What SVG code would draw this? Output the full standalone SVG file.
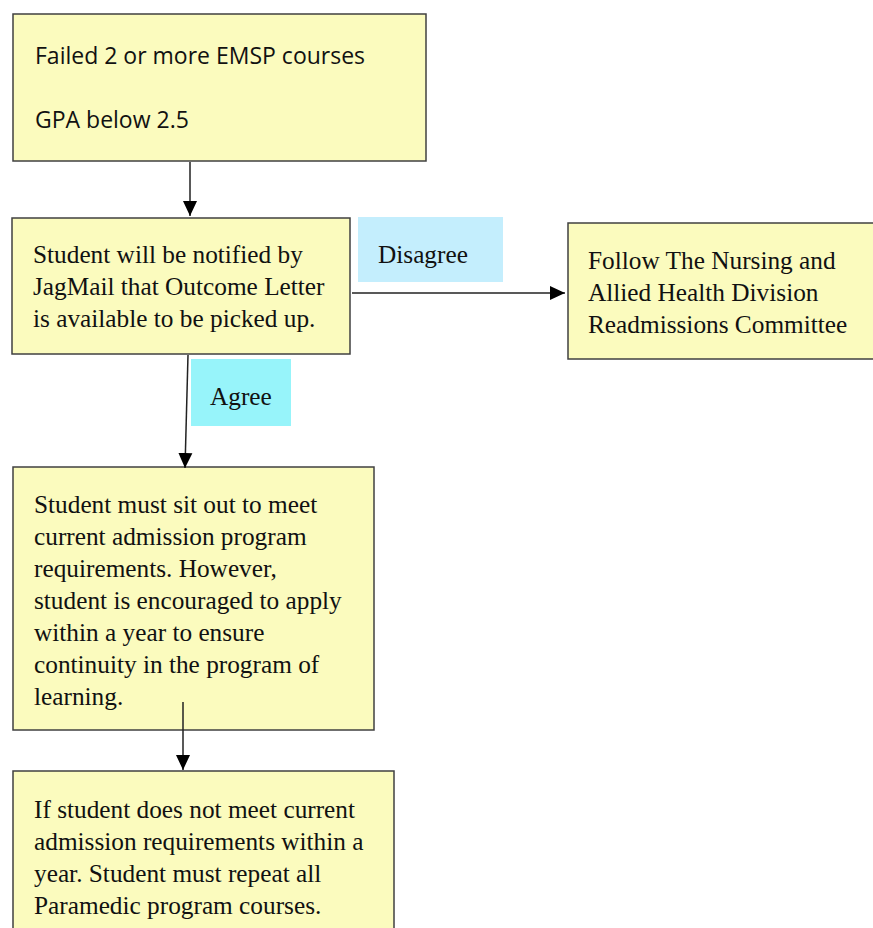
<svg xmlns="http://www.w3.org/2000/svg" width="873" height="928" viewBox="0 0 873 928">
<style>
.box{fill:#FBFBBE;stroke:#404040;stroke-width:1.5}
.lblD{fill:#C4EEFD}
.lblA{fill:#97F4FA}
.sans{font-family:"Open Sans","Noto Sans",sans-serif;font-size:23px;fill:#111}
.serif{font-family:"Liberation Serif","Times New Roman",serif;font-size:25.3px;fill:#111}
.conn{stroke:#222;stroke-width:1.5;fill:none;marker-end:url(#ah)}
</style>
<defs>
<marker id="ah" markerUnits="userSpaceOnUse" markerWidth="16" markerHeight="16" viewBox="0 0 16 16" refX="15" refY="8" orient="auto">
<path d="M0,1 L15,8 L0,15 Z" fill="#000"/>
</marker>
</defs>
<rect width="873" height="928" fill="#fff"/>
<g id="node-failed">
<rect class="box" x="13" y="14" width="413" height="147"/>
<text class="sans" x="35" y="64">Failed 2 or more EMSP courses</text>
<text class="sans" x="35" y="128">GPA below 2.5</text>
</g>
<g id="node-notified">
<rect class="box" x="12" y="218" width="338" height="136"/>
<text class="serif" x="33" y="263">Student will be notified by</text>
<text class="serif" x="33" y="295">JagMail that Outcome Letter</text>
<text class="serif" x="33" y="327">is available to be picked up.</text>
</g>
<g id="label-disagree">
<rect class="lblD" x="358" y="217" width="145" height="65"/>
<text class="serif" x="378" y="263">Disagree</text>
</g>
<g id="node-committee">
<rect class="box" x="568" y="223" width="320" height="136"/>
<text class="serif" x="588" y="269">Follow The Nursing and</text>
<text class="serif" x="588" y="301">Allied Health Division</text>
<text class="serif" x="588" y="333">Readmissions Committee</text>
</g>
<g id="label-agree">
<rect class="lblA" x="191" y="359" width="100" height="67"/>
<text class="serif" x="210" y="405">Agree</text>
</g>
<g id="node-sitout">
<rect class="box" x="13" y="467" width="361" height="263"/>
<text class="serif" x="34" y="513">Student must sit out to meet</text>
<text class="serif" x="34" y="545">current admission program</text>
<text class="serif" x="34" y="577">requirements. However,</text>
<text class="serif" x="34" y="609">student is encouraged to apply</text>
<text class="serif" x="34" y="641">within a year to ensure</text>
<text class="serif" x="34" y="673">continuity in the program of</text>
<text class="serif" x="34" y="705">learning.</text>
</g>
<g id="node-repeat">
<rect class="box" x="13" y="771" width="381" height="170"/>
<text class="serif" x="34" y="818">If student does not meet current</text>
<text class="serif" x="34" y="850">admission requirements within a</text>
<text class="serif" x="34" y="882">year. Student must repeat all</text>
<text class="serif" x="34" y="914">Paramedic program courses.</text>
</g>
<g id="connectors">
<line class="conn" x1="190" y1="162" x2="190" y2="216"/>
<line class="conn" x1="352" y1="293" x2="565" y2="293"/>
<line class="conn" x1="188" y1="355" x2="185" y2="468"/>
<line class="conn" x1="183" y1="702" x2="183" y2="770"/>
</g>
</svg>
